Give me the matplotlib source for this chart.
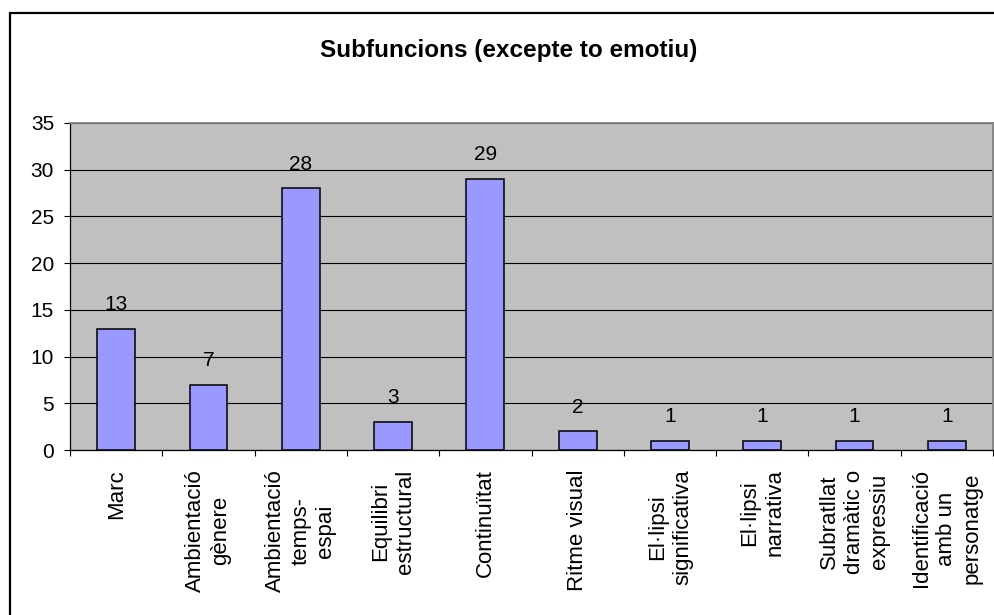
import matplotlib
matplotlib.use("Agg")
import matplotlib.pyplot as plt
from matplotlib.patches import Rectangle
import numpy as np

plt.rcParams["font.family"] = ["Liberation Sans", "DejaVu Sans"]

# Subfunction categories and counts
categories = [
    "Marc",
    "Ambientació\ngènere",
    "Ambientació\ntemps-\nespai",
    "Equilibri\nestructural",
    "Continuïtat",
    "Ritme visual",
    "El·lipsi\nsignificativa",
    "El·lipsi\nnarrativa",
    "Subratllat\ndramàtic o\nexpressiu",
    "Identificació\namb un\npersonatge",
]
counts = [13, 7, 28, 3, 29, 2, 1, 1, 1, 1]
y_ticks = [0, 5, 10, 15, 20, 25, 30, 35]

fig = plt.figure(figsize=(9.95, 6.15), dpi=100)
ax = fig.add_axes([70 / 995, 1 - 450 / 615, 923 / 995, 327 / 615])

x = np.arange(len(categories))
ax.bar(x, counts, width=0.41, color="#9999FF", edgecolor="black",
       linewidth=1.1, zorder=3)

# value labels over each bar
for xi, v in zip(x, counts):
    ax.annotate(str(v), (xi, v), xytext=(0, 13.5), textcoords="offset points",
                ha="center", va="baseline", fontsize=15, zorder=4)

ax.set_facecolor("#C0C0C0")
ax.set_xlim(-0.5, len(categories) - 0.5)
ax.set_ylim(0, 35)
ax.set_yticks(y_ticks)
ax.yaxis.grid(True, color="black", linewidth=0.8, zorder=1)
ax.set_axisbelow(True)

# category labels at the centres, tick marks on the boundaries
ax.set_xticks(x)
ax.set_xticklabels(categories, rotation=90, fontsize=16,
                   va="top", ha="center", multialignment="center",
                   linespacing=1.25)
ax.set_xticks(np.arange(-0.5, len(categories)), minor=True)
ax.tick_params(axis="x", which="major", length=0, pad=14)
ax.tick_params(axis="x", which="minor", length=4.5, width=0.8, color="black")
ax.tick_params(axis="y", length=4.5, width=0.8, pad=7, labelsize=15)

for side in ("top", "right"):
    ax.spines[side].set_color("#808080")
    ax.spines[side].set_linewidth(1.3)
for side in ("left", "bottom"):
    ax.spines[side].set_color("black")
    ax.spines[side].set_linewidth(0.9)

fig.text(509 / 995, 1 - 50 / 615, "Subfuncions (excepte to emotiu)",
         ha="center", va="center", fontsize=17.5, fontweight="bold")

# chart area border
fig.patches.append(Rectangle((10 / 995, -0.1), 1.1, 0.1 + (1 - 13 / 615),
                             transform=fig.transFigure, fill=False,
                             edgecolor="black", linewidth=1.6))

fig.savefig("out.png", dpi=100)
